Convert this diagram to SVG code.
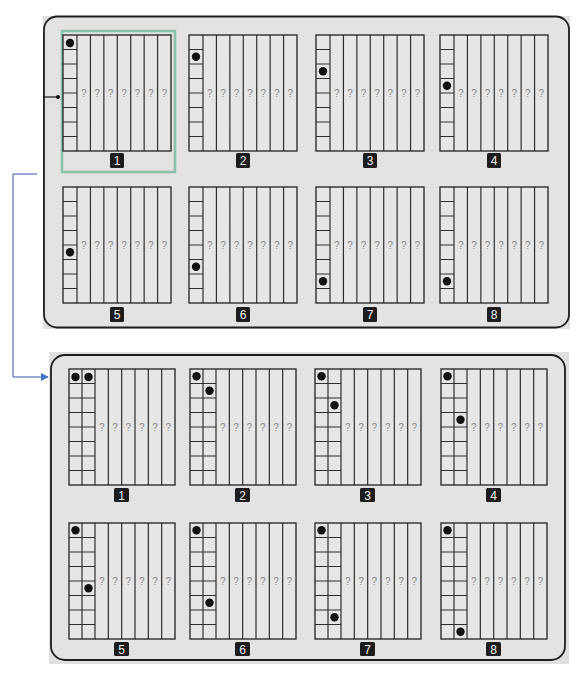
<svg xmlns="http://www.w3.org/2000/svg" xmlns:xlink="http://www.w3.org/1999/xlink" width="581" height="673" viewBox="0 0 581 673">
<style>
.panelbg{fill:#dfdfdf;}
.panel{fill:#e3e3e3;stroke:#1e1e1e;stroke-width:1.8;}
.grid{fill:none;stroke:#2e2e2e;stroke-width:1.2;}
.q{font-family:"Liberation Sans",Arial,sans-serif;font-size:10px;fill:#8a8a8a;text-anchor:middle;}
.lblbox{fill:#1c1c1c;}
.lbl{font-family:"Liberation Sans",Arial,sans-serif;font-size:12px;fill:#f2f2f2;text-anchor:middle;}
.dot{fill:#111;}
.conn{fill:none;stroke:#3a58a8;stroke-width:1;}
</style>
<defs>
<g id="gridTop">
<rect x="0" y="0" width="108" height="116" fill="#e6e6e6" stroke="#2e2e2e" stroke-width="1.4"/>
<path class="grid" d="M14,0V116M27.43,0V116M40.86,0V116M54.29,0V116M67.71,0V116M81.14,0V116M94.57,0V116M0,14.5H14M0,29H14M0,43.5H14M0,58H14M0,72.5H14M0,87H14M0,101.5H14"/>
</g>
<g id="gridBot">
<rect x="0" y="0" width="106" height="116" fill="#e6e6e6" stroke="#2e2e2e" stroke-width="1.4"/>
<path class="grid" d="M13,0V116M26,0V116M39.33,0V116M52.67,0V116M66,0V116M79.33,0V116M92.67,0V116M0,14.5H26M0,29H26M0,43.5H26M0,58H26M0,72.5H26M0,87H26M0,101.5H26"/>
</g>
<marker id="arr" viewBox="0 0 10 10" refX="9" refY="5" markerWidth="8" markerHeight="8" orient="auto" markerUnits="userSpaceOnUse">
<path d="M0,0L10,5L0,10z" fill="#4472c4"/>
</marker>
</defs>

<g id="top-panel">
<rect class="panelbg" x="43" y="16" width="527" height="313"/>
<rect class="panel" x="44" y="16.5" width="525" height="311" rx="13"/>
</g>

<g id="top-cell-1">
<rect x="62" y="31" width="113" height="141" fill="none" stroke="#6db598" stroke-width="2.5" opacity="0.75"/>
<use xlink:href="#gridTop" x="63" y="35"/>
<text class="q" x="83.7" y="96.5">?</text><text class="q" x="97.1" y="96.5">?</text><text class="q" x="110.6" y="96.5">?</text><text class="q" x="124" y="96.5">?</text><text class="q" x="137.4" y="96.5">?</text><text class="q" x="150.9" y="96.5">?</text><text class="q" x="164.3" y="96.5">?</text>
<circle class="dot" cx="70" cy="43" r="4.2"/>
<rect class="lblbox" x="110" y="153" width="14" height="15" rx="1.5"/><text class="lbl" x="117" y="165">1</text>
</g>
<g id="top-cell-2">
<use xlink:href="#gridTop" x="189" y="35"/>
<text class="q" x="209.7" y="96.5">?</text><text class="q" x="223.1" y="96.5">?</text><text class="q" x="236.6" y="96.5">?</text><text class="q" x="250" y="96.5">?</text><text class="q" x="263.4" y="96.5">?</text><text class="q" x="276.9" y="96.5">?</text><text class="q" x="290.3" y="96.5">?</text>
<circle class="dot" cx="196" cy="56.75" r="4.2"/>
<rect class="lblbox" x="236" y="153" width="14" height="15" rx="1.5"/><text class="lbl" x="243" y="165">2</text>
</g>
<g id="top-cell-3">
<use xlink:href="#gridTop" x="316" y="35"/>
<text class="q" x="336.7" y="96.5">?</text><text class="q" x="350.1" y="96.5">?</text><text class="q" x="363.6" y="96.5">?</text><text class="q" x="377" y="96.5">?</text><text class="q" x="390.4" y="96.5">?</text><text class="q" x="403.9" y="96.5">?</text><text class="q" x="417.3" y="96.5">?</text>
<circle class="dot" cx="323" cy="71.25" r="4.2"/>
<rect class="lblbox" x="363" y="153" width="14" height="15" rx="1.5"/><text class="lbl" x="370" y="165">3</text>
</g>
<g id="top-cell-4">
<use xlink:href="#gridTop" x="440" y="35"/>
<text class="q" x="460.7" y="96.5">?</text><text class="q" x="474.1" y="96.5">?</text><text class="q" x="487.6" y="96.5">?</text><text class="q" x="501" y="96.5">?</text><text class="q" x="514.4" y="96.5">?</text><text class="q" x="527.9" y="96.5">?</text><text class="q" x="541.3" y="96.5">?</text>
<circle class="dot" cx="447" cy="85.75" r="4.2"/>
<rect class="lblbox" x="487" y="153" width="14" height="15" rx="1.5"/><text class="lbl" x="494" y="165">4</text>
</g>
<g id="top-cell-5">
<use xlink:href="#gridTop" x="63" y="187"/>
<text class="q" x="83.7" y="248.5">?</text><text class="q" x="97.1" y="248.5">?</text><text class="q" x="110.6" y="248.5">?</text><text class="q" x="124" y="248.5">?</text><text class="q" x="137.4" y="248.5">?</text><text class="q" x="150.9" y="248.5">?</text><text class="q" x="164.3" y="248.5">?</text>
<circle class="dot" cx="70" cy="252.25" r="4.2"/>
<rect class="lblbox" x="110" y="307" width="14" height="15" rx="1.5"/><text class="lbl" x="117" y="319">5</text>
</g>
<g id="top-cell-6">
<use xlink:href="#gridTop" x="189" y="187"/>
<text class="q" x="209.7" y="248.5">?</text><text class="q" x="223.1" y="248.5">?</text><text class="q" x="236.6" y="248.5">?</text><text class="q" x="250" y="248.5">?</text><text class="q" x="263.4" y="248.5">?</text><text class="q" x="276.9" y="248.5">?</text><text class="q" x="290.3" y="248.5">?</text>
<circle class="dot" cx="196" cy="266.75" r="4.2"/>
<rect class="lblbox" x="236" y="307" width="14" height="15" rx="1.5"/><text class="lbl" x="243" y="319">6</text>
</g>
<g id="top-cell-7">
<use xlink:href="#gridTop" x="316" y="187"/>
<text class="q" x="336.7" y="248.5">?</text><text class="q" x="350.1" y="248.5">?</text><text class="q" x="363.6" y="248.5">?</text><text class="q" x="377" y="248.5">?</text><text class="q" x="390.4" y="248.5">?</text><text class="q" x="403.9" y="248.5">?</text><text class="q" x="417.3" y="248.5">?</text>
<circle class="dot" cx="323" cy="281.25" r="4.2"/>
<rect class="lblbox" x="363" y="307" width="14" height="15" rx="1.5"/><text class="lbl" x="370" y="319">7</text>
</g>
<g id="top-cell-8">
<use xlink:href="#gridTop" x="440" y="187"/>
<text class="q" x="460.7" y="248.5">?</text><text class="q" x="474.1" y="248.5">?</text><text class="q" x="487.6" y="248.5">?</text><text class="q" x="501" y="248.5">?</text><text class="q" x="514.4" y="248.5">?</text><text class="q" x="527.9" y="248.5">?</text><text class="q" x="541.3" y="248.5">?</text>
<circle class="dot" cx="447" cy="281.25" r="4.2"/>
<rect class="lblbox" x="487" y="307" width="14" height="15" rx="1.5"/><text class="lbl" x="494" y="319">8</text>
</g>

<g id="bottom-panel">
<rect class="panelbg" x="49" y="352" width="520" height="312"/>
<rect class="panel" x="51" y="355" width="514" height="305" rx="14"/>
</g>

<g id="bottom-cell-1">
<use xlink:href="#gridBot" x="69" y="369"/>
<text class="q" x="101.7" y="430.5">?</text><text class="q" x="115" y="430.5">?</text><text class="q" x="128.3" y="430.5">?</text><text class="q" x="141.7" y="430.5">?</text><text class="q" x="155" y="430.5">?</text><text class="q" x="168.3" y="430.5">?</text>
<circle class="dot" cx="75.5" cy="377" r="4.2"/><circle class="dot" cx="88.5" cy="377" r="4.2"/>
<rect class="lblbox" x="114" y="488" width="15" height="14" rx="1.5"/><text class="lbl" x="121.5" y="499.5">1</text>
</g>
<g id="bottom-cell-2">
<use xlink:href="#gridBot" x="190" y="369"/>
<text class="q" x="222.7" y="430.5">?</text><text class="q" x="236" y="430.5">?</text><text class="q" x="249.3" y="430.5">?</text><text class="q" x="262.7" y="430.5">?</text><text class="q" x="276" y="430.5">?</text><text class="q" x="289.3" y="430.5">?</text>
<circle class="dot" cx="196.5" cy="376.25" r="4.2"/><circle class="dot" cx="209.5" cy="390.75" r="4.2"/>
<rect class="lblbox" x="235" y="488" width="15" height="14" rx="1.5"/><text class="lbl" x="242.5" y="499.5">2</text>
</g>
<g id="bottom-cell-3">
<use xlink:href="#gridBot" x="315" y="369"/>
<text class="q" x="347.7" y="430.5">?</text><text class="q" x="361" y="430.5">?</text><text class="q" x="374.3" y="430.5">?</text><text class="q" x="387.7" y="430.5">?</text><text class="q" x="401" y="430.5">?</text><text class="q" x="414.3" y="430.5">?</text>
<circle class="dot" cx="321.5" cy="376.25" r="4.2"/><circle class="dot" cx="334.5" cy="405.25" r="4.2"/>
<rect class="lblbox" x="360" y="488" width="15" height="14" rx="1.5"/><text class="lbl" x="367.5" y="499.5">3</text>
</g>
<g id="bottom-cell-4">
<use xlink:href="#gridBot" x="441" y="369"/>
<text class="q" x="473.7" y="430.5">?</text><text class="q" x="487" y="430.5">?</text><text class="q" x="500.3" y="430.5">?</text><text class="q" x="513.7" y="430.5">?</text><text class="q" x="527" y="430.5">?</text><text class="q" x="540.3" y="430.5">?</text>
<circle class="dot" cx="447.5" cy="376.25" r="4.2"/><circle class="dot" cx="460.5" cy="419.75" r="4.2"/>
<rect class="lblbox" x="486" y="488" width="15" height="14" rx="1.5"/><text class="lbl" x="493.5" y="499.5">4</text>
</g>
<g id="bottom-cell-5">
<use xlink:href="#gridBot" x="69" y="523"/>
<text class="q" x="101.7" y="584.5">?</text><text class="q" x="115" y="584.5">?</text><text class="q" x="128.3" y="584.5">?</text><text class="q" x="141.7" y="584.5">?</text><text class="q" x="155" y="584.5">?</text><text class="q" x="168.3" y="584.5">?</text>
<circle class="dot" cx="75.5" cy="530.25" r="4.2"/><circle class="dot" cx="88.5" cy="588.25" r="4.2"/>
<rect class="lblbox" x="114" y="642" width="15" height="14" rx="1.5"/><text class="lbl" x="121.5" y="653.5">5</text>
</g>
<g id="bottom-cell-6">
<use xlink:href="#gridBot" x="190" y="523"/>
<text class="q" x="222.7" y="584.5">?</text><text class="q" x="236" y="584.5">?</text><text class="q" x="249.3" y="584.5">?</text><text class="q" x="262.7" y="584.5">?</text><text class="q" x="276" y="584.5">?</text><text class="q" x="289.3" y="584.5">?</text>
<circle class="dot" cx="196.5" cy="530.25" r="4.2"/><circle class="dot" cx="209.5" cy="602.75" r="4.2"/>
<rect class="lblbox" x="235" y="642" width="15" height="14" rx="1.5"/><text class="lbl" x="242.5" y="653.5">6</text>
</g>
<g id="bottom-cell-7">
<use xlink:href="#gridBot" x="315" y="523"/>
<text class="q" x="347.7" y="584.5">?</text><text class="q" x="361" y="584.5">?</text><text class="q" x="374.3" y="584.5">?</text><text class="q" x="387.7" y="584.5">?</text><text class="q" x="401" y="584.5">?</text><text class="q" x="414.3" y="584.5">?</text>
<circle class="dot" cx="321.5" cy="530.25" r="4.2"/><circle class="dot" cx="334.5" cy="617.25" r="4.2"/>
<rect class="lblbox" x="360" y="642" width="15" height="14" rx="1.5"/><text class="lbl" x="367.5" y="653.5">7</text>
</g>
<g id="bottom-cell-8">
<use xlink:href="#gridBot" x="441" y="523"/>
<text class="q" x="473.7" y="584.5">?</text><text class="q" x="487" y="584.5">?</text><text class="q" x="500.3" y="584.5">?</text><text class="q" x="513.7" y="584.5">?</text><text class="q" x="527" y="584.5">?</text><text class="q" x="540.3" y="584.5">?</text>
<circle class="dot" cx="447.5" cy="530.25" r="4.2"/><circle class="dot" cx="460.5" cy="631.75" r="4.2"/>
<rect class="lblbox" x="486" y="642" width="15" height="14" rx="1.5"/><text class="lbl" x="493.5" y="653.5">8</text>
</g>

<g id="connectors">
<path d="M43,97H58" fill="none" stroke="#111" stroke-width="1.2"/>
<circle cx="58" cy="97" r="2" fill="#111"/>
<path class="conn" d="M37,174H13V377H48" marker-end="url(#arr)"/>
</g>
</svg>
